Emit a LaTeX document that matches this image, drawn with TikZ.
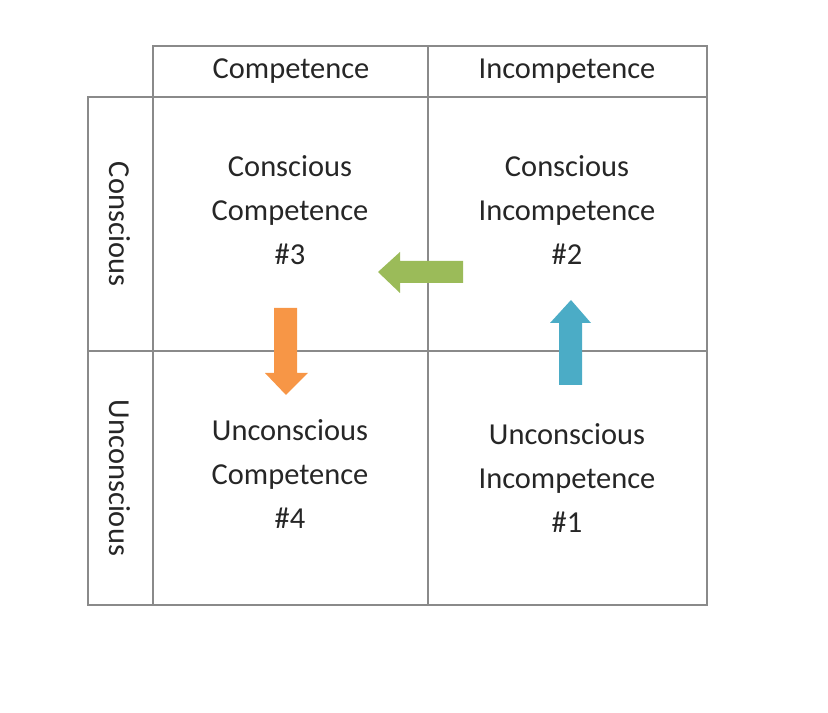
\documentclass[tikz,border=0pt]{standalone}
\usepackage{fontspec}
\setmainfont{Carlito}
\definecolor{gridgray}{HTML}{8A8A8A}
\definecolor{arrgreen}{HTML}{9BBB59}
\definecolor{arrorange}{HTML}{F79646}
\definecolor{arrblue}{HTML}{4BACC6}
\tikzset{
	cell/.style = {align = center, font = \fontsize{26}{37.4}\selectfont, text = black!85},
	head/.style = {font = \fontsize{26}{30}\selectfont, text = black!85}
}

\begin{document}
\begin{tikzpicture}[x = 0.03cm, y = -0.03cm]
	\useasboundingbox (0,0) rectangle (828,713);
	\begin{scope}[draw = gridgray, line width = 1.6pt]
		\draw (153,46) rectangle (707,97);
		\draw (88,97) rectangle (707,605);
		\draw (153,46) -- (153,605);
		\draw (428,46) -- (428,605);
		\draw (88,351) -- (707,351);
	\end{scope}

	\node [head] (hcomp) at (291,71) {Competence};
	\node [head] (hincomp) at (567,71) {Incompetence};
	\node [head, rotate = -90] (hcon) at (120,224) {Conscious};
	\node [head, rotate = -90] (hunc) at (120,478) {Unconscious};

	\node [cell] (c3) at (290,210) {Conscious\\Competence\\\#3};
	\node [cell] (c2) at (567,210) {Conscious\\Incompetence\\\#2};
	\node [cell] (c4) at (290,474) {Unconscious\\Competence\\\#4};
	\node [cell] (c1) at (567,478) {Unconscious\\Incompetence\\\#1};

	\fill [arrgreen] (463,261) -- (400,261) -- (400,252) -- (378,272)
		-- (400,293) -- (400,283) -- (463,283) -- cycle;
	\fill [arrorange] (274,308) -- (297,308) -- (297,373) -- (308,373)
		-- (286,395) -- (265,373) -- (274,373) -- cycle;
	\fill [arrblue] (559,385) -- (559,323) -- (550,323) -- (571,300)
		-- (591,323) -- (582,323) -- (582,385) -- cycle;
\end{tikzpicture}
\end{document}
